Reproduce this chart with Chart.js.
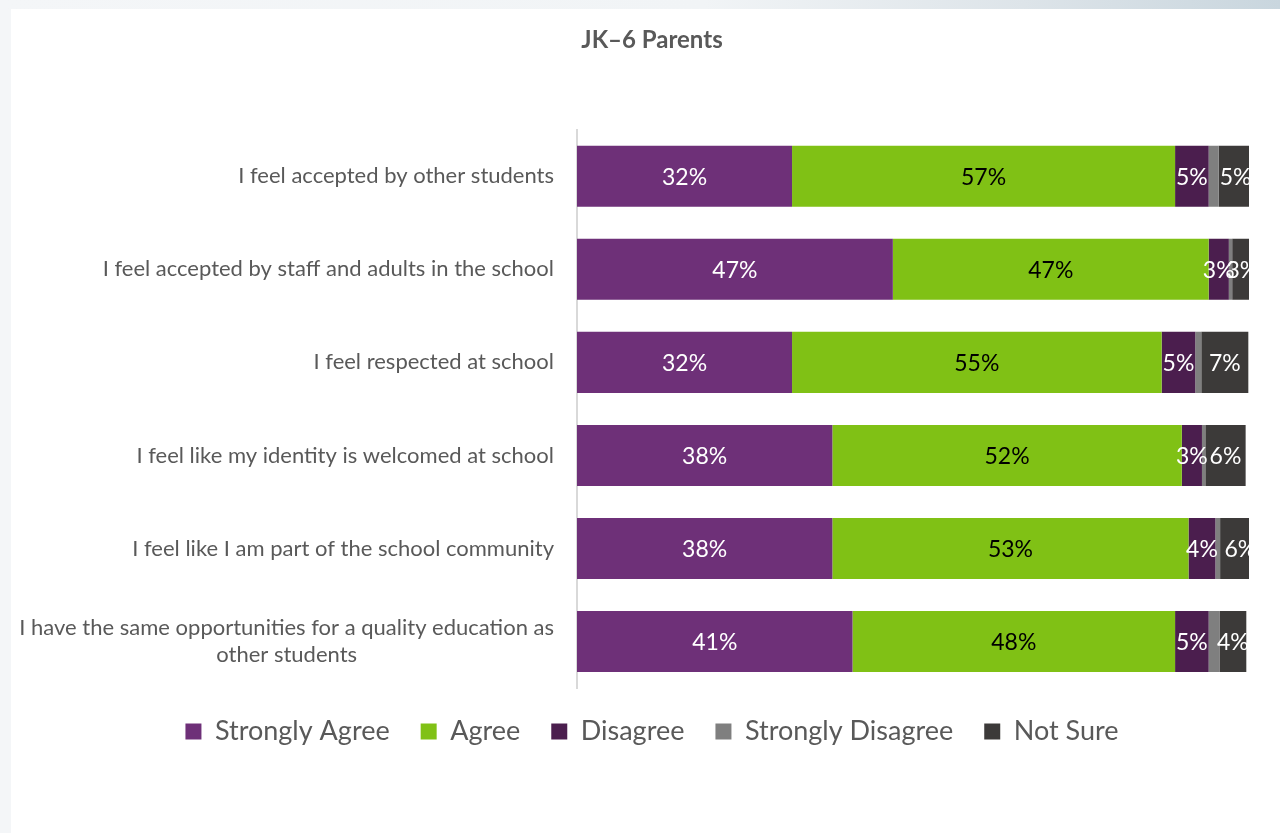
<!DOCTYPE html>
<html>
<head>
<meta charset="utf-8">
<title>JK–6 Parents</title>
<script src="https://cdn.jsdelivr.net/npm/chart.js@4.4.1/dist/chart.umd.min.js"></script>
<style>
  html, body { margin: 0; padding: 0; background: #ffffff; }
  body { width: 1280px; height: 833px; position: relative; overflow: hidden; }
  .strip-left { position: absolute; left: 0; top: 0; width: 11px; height: 833px; background: #f4f6f8; }
  .strip-top { position: absolute; left: 0; top: 0; width: 1280px; height: 9px;
    background: linear-gradient(to right, #f4f6f8 0%, #f1f4f6 55%, #dde4e9 80%, #c9d6de 100%); }
  #wrap { position: absolute; left: 0; top: 0; width: 1280px; height: 833px; }
</style>
</head>
<body>
<div class="strip-left"></div>
<div class="strip-top"></div>
<div id="wrap"><canvas id="chart"></canvas></div>
<script>
// Survey statements (top to bottom)
const categories = [
  'I feel accepted by other students',
  'I feel accepted by staff and adults in the school',
  'I feel respected at school',
  'I feel like my identity is welcomed at school',
  'I feel like I am part of the school community',
  ['I have the same opportunities for a quality education as', 'other students']
];

// Response shares, percent of respondents
const stronglyAgree    = [32, 47, 32, 38, 38, 41];
const agree            = [57, 47, 55, 52, 53, 48];
const disagree         = [5, 3, 5, 3, 4, 5];
const stronglyDisagree = [1.5, 0.5, 0.9, 0.5, 0.7, 1.6];
const notSure          = [5, 3, 7, 6, 6, 4];

const seriesNames = ['Strongly Agree', 'Agree', 'Disagree', 'Strongly Disagree', 'Not Sure'];
const seriesColors = ['#6e3078', '#80c115', '#4b1e4e', '#7f7f7f', '#3c3a39'];
const labelColors = ['#ffffff', '#000000', '#ffffff', null, '#ffffff'];
const seriesValues = [stronglyAgree, agree, disagree, stronglyDisagree, notSure];

const FONT = 'Lato, "Open Sans", sans-serif';
const GREY_TEXT = '#595959';
const TICK_SIZE = 22;

// Draws the percentage in the middle of each segment
const segmentLabels = {
  id: 'segmentLabels',
  afterDatasetsDraw(chart) {
    const ctx = chart.ctx;
    ctx.save();
    ctx.font = '23px ' + FONT;
    ctx.textAlign = 'center';
    ctx.textBaseline = 'middle';
    chart.data.datasets.forEach((ds, di) => {
      const color = labelColors[di];
      if (!color) return;
      const meta = chart.getDatasetMeta(di);
      meta.data.forEach((bar, i) => {
        const v = ds.data[i];
        const cx = (bar.x + bar.base) / 2;
        ctx.fillStyle = color;
        ctx.fillText(v + '%', cx, bar.y + 1);
      });
    });
    ctx.restore();
  }
};

// Wrapped category labels: lines centred on each other, block flush right
const wrappedTicks = {
  id: 'wrappedTicks',
  afterDraw(chart) {
    const scale = chart.scales.y;
    const ctx = chart.ctx;
    const right = chart.chartArea.left - 23;
    ctx.save();
    ctx.font = TICK_SIZE + 'px ' + FONT;
    ctx.fillStyle = GREY_TEXT;
    ctx.textAlign = 'center';
    ctx.textBaseline = 'middle';
    const lineH = TICK_SIZE * 1.25;
    categories.forEach((lab, i) => {
      if (!Array.isArray(lab)) return;
      const widest = Math.max(...lab.map(t => ctx.measureText(t).width));
      const cx = right - widest / 2;
      const cy = scale.getPixelForTick(i);
      lab.forEach((t, k) => {
        ctx.fillText(t, cx, cy + (k - (lab.length - 1) / 2) * lineH);
      });
    });
    ctx.restore();
  },
  // keep the legend a little closer to the bars
  afterLayout(chart) {
    const lg = chart.legend;
    if (lg) { lg.top -= 1; lg.bottom -= 1; }
  }
};

const datasets = seriesNames.map((name, i) => ({
  label: name,
  data: seriesValues[i],
  backgroundColor: seriesColors[i],
  borderWidth: 0,
  barPercentage: 0.656,
  categoryPercentage: 1.0
}));

new Chart(document.getElementById('chart'), {
  type: 'bar',
  data: { labels: categories, datasets },
  plugins: [segmentLabels, wrappedTicks],
  options: {
    indexAxis: 'y',
    responsive: true,
    maintainAspectRatio: false,
    animation: false,
    layout: { padding: { left: 55, right: 31, top: 0, bottom: 77 } },
    plugins: {
      title: {
        display: true,
        text: 'JK–6 Parents',
        color: GREY_TEXT,
        font: { family: FONT, size: 24, weight: 'bold' },
        padding: { top: 26, bottom: 75 }
      },
      legend: {
        position: 'bottom',
        labels: {
          color: GREY_TEXT,
          font: { family: FONT, size: 27 },
          boxWidth: 16,
          boxHeight: 16,
          padding: 31
        }
      },
      tooltip: { enabled: false }
    },
    scales: {
      x: {
        stacked: true,
        min: 0,
        max: 100,
        display: false
      },
      y: {
        stacked: true,
        grid: { display: false, drawTicks: false },
        border: { display: true, color: '#d9d9d9', width: 2 },
        ticks: {
          color: (c) => Array.isArray(categories[c.index]) ? 'rgba(0,0,0,0)' : GREY_TEXT,
          font: { family: FONT, size: TICK_SIZE },
          padding: 23,
          autoSkip: false
        },
        afterFit(scale) { scale.width = 522; }
      }
    }
  }
});
</script>
</body>
</html>
